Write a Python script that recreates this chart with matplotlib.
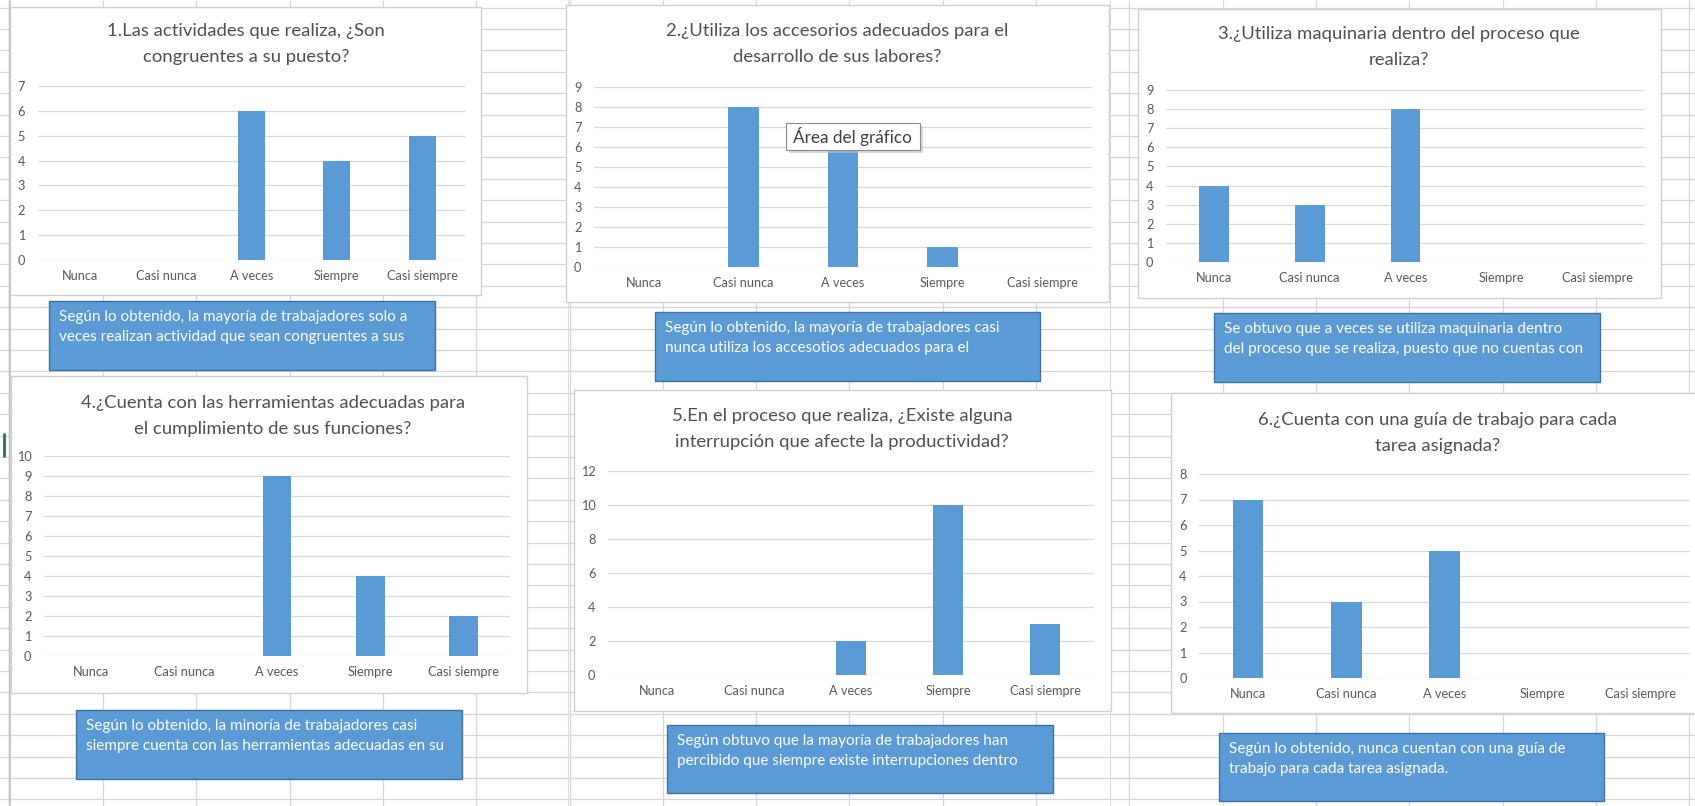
import matplotlib
matplotlib.use("Agg")
import matplotlib.pyplot as plt
from matplotlib.patches import Rectangle
import numpy as np

plt.rcParams['font.family'] = ['Lato', 'DejaVu Sans']

# --- data ---
categorias = ["Nunca", "Casi nunca", "A veces", "Siempre", "Casi siempre"]

titulos = [
    "1.Las actividades que realiza, ¿Son\ncongruentes a su puesto?",
    "2.¿Utiliza los accesorios adecuados para el\ndesarrollo de sus labores?",
    "3.¿Utiliza maquinaria dentro del proceso que\nrealiza?",
    "4.¿Cuenta con las herramientas adecuadas para\nel cumplimiento de sus funciones?",
    "5.En el proceso que realiza, ¿Existe alguna\ninterrupción que afecte la productividad?",
    "6.¿Cuenta con una guía de trabajo para cada\ntarea asignada?",
]

p1 = [0, 0, 6, 4, 5]
p2 = [0, 8, 6, 1, 0]
p3 = [4, 3, 8, 0, 0]
p4 = [0, 0, 9, 4, 2]
p5 = [0, 0, 2, 10, 3]
p6 = [7, 3, 5, 0, 0]
respuestas = [p1, p2, p3, p4, p5, p6]

y_max = [7, 9, 9, 10, 12, 8]
y_paso = [1, 1, 1, 1, 2, 1]

comentarios = [
    "Según lo obtenido, la mayoría de trabajadores solo a\nveces realizan actividad que sean congruentes a sus",
    "Según lo obtenido, la mayoría de trabajadores casi\nnunca utiliza los accesotios adecuados para el",
    "Se obtuvo que a veces se utiliza maquinaria dentro\ndel proceso que se realiza, puesto que no cuentas con",
    "Según lo obtenido, la minoría de trabajadores casi\nsiempre cuenta con las herramientas adecuadas en su",
    "Según obtuvo que la mayoría de trabajadores han\npercibido que siempre existe interrupciones dentro",
    "Según lo obtenido, nunca cuentan con una guía de\ntrabajo para cada tarea asignada.",
]

# --- layout in screen pixels ---
W, H = 1695, 806
cajas = [(10, 7, 481, 295), (566, 5, 1109, 302), (1138, 9, 1661, 298),
         (11, 376, 527, 693), (574, 390, 1111, 711), (1171, 393, 1702, 713)]
# plot area: left, right, y of top gridline, y of zero line
areas = [(37.5, 465, 86, 260), (594, 1092, 87, 267), (1166, 1645, 90, 262),
         (44, 510, 456, 656), (608, 1094, 471, 675), (1199, 1690, 474, 678)]
# title centre x, first line y
pos_titulo = [(246, 31), (837, 31), (1399, 34), (273, 403), (842, 416), (1438, 420)]
# comment boxes: x0, y0, x1, y1
cajas_texto = [(49, 301, 435, 370), (655, 312, 1040, 381), (1214, 313, 1600, 382),
               (76, 710, 462, 779), (667, 725, 1053, 793), (1219, 733, 1604, 801)]

AZUL = '#5b9bd5'
GRIS_TXT = '#595959'
GRIS_LINEA = '#d9d9d9'


def px_axes(fig, x0, y0, x1, y1):
    return fig.add_axes([x0 / W, 1 - y1 / H, (x1 - x0) / W, (y1 - y0) / H])


fig = plt.figure(figsize=(W / 100, H / 100), dpi=100)
fig.patch.set_facecolor('white')

# spreadsheet background
bg = px_axes(fig, 0, 0, W, H)
bg.set_xlim(0, W)
bg.set_ylim(H, 0)
bg.axis('off')
bg.hlines(np.arange(7.6, H, 21.4), 0, W, color='#d6d6d6', lw=0.9)
bg.vlines(np.arange(9.7, W, 93.3), 0, H, color='#d6d6d6', lw=0.9)
bg.vlines([568, 1110], 0, H, color='#dedede', lw=0.8)
bg.vlines(9, 0, H, color='#bdbdbd', lw=1.0)
bg.vlines(4, 433, 457, color='#217346', lw=2)

for i in range(6):
    x0, y0, x1, y1 = cajas[i]
    bg.add_patch(Rectangle((x0, y0), x1 - x0, y1 - y0, facecolor='white',
                           edgecolor='#d0d0d0', lw=1, zorder=2))
    cx, ty = pos_titulo[i]
    for k, linea in enumerate(titulos[i].split("\n")):
        bg.text(cx, ty + 26 * k, linea, ha='center', va='center',
                fontsize=13.3, color='#505050', zorder=3)

# the six bar charts
for i in range(6):
    left, right, top, zero = areas[i]
    ax = px_axes(fig, left, top, right, zero)
    ax.patch.set_alpha(0)
    ax.bar(range(len(categorias)), respuestas[i], width=0.31, color=AZUL, zorder=3)
    ax.set_xlim(-0.5, len(categorias) - 0.5)
    ax.set_ylim(0, y_max[i])
    ax.set_yticks(np.arange(0, y_max[i] + 1, y_paso[i]))
    ax.set_xticks(range(len(categorias)))
    ax.set_xticklabels(categorias)
    ax.grid(axis='y', color=GRIS_LINEA, lw=0.9)
    ax.set_axisbelow(True)
    for s in ax.spines.values():
        s.set_visible(False)
    ax.tick_params(axis='both', length=0, labelsize=9.2, labelcolor=GRIS_TXT)
    ax.tick_params(axis='y', pad=9)
    ax.tick_params(axis='x', pad=7)

# comment boxes and the tooltip on top
ov = px_axes(fig, 0, 0, W, H)
ov.set_xlim(0, W)
ov.set_ylim(H, 0)
ov.axis('off')
ov.patch.set_alpha(0)

for i in range(6):
    x0, y0, x1, y1 = cajas_texto[i]
    ov.add_patch(Rectangle((x0, y0), x1 - x0, y1 - y0, facecolor=AZUL,
                           edgecolor='#41719c', lw=1))
    for k, linea in enumerate(comentarios[i].split("\n")):
        ov.text(x0 + 10, y0 + 16 + 20 * k, linea, ha='left', va='center',
                fontsize=11, color='white')

# "Área del gráfico" tooltip over chart 2
ov.add_patch(Rectangle((789, 126), 134, 27, facecolor='#bfbfbf', edgecolor='none', alpha=0.6))
ov.add_patch(Rectangle((786, 123), 134, 27, facecolor='white', edgecolor='#8c8c8c', lw=0.8))
ov.text(793, 137, "Área del gráfico", ha='left', va='center', fontsize=12.3, color='#404040')

fig.savefig("out.png", dpi=100)
